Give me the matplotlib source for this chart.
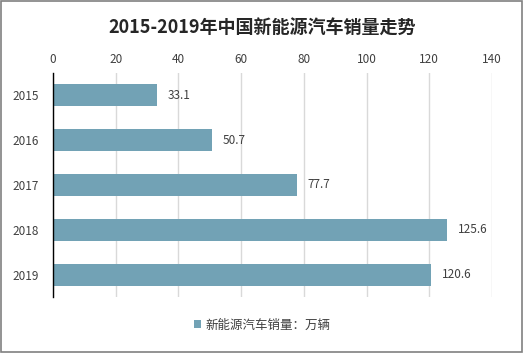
import matplotlib
matplotlib.use("Agg")
import matplotlib.pyplot as plt
from matplotlib.patches import Rectangle

plt.rcParams['font.family'] = ['Noto Sans CJK SC', 'DejaVu Sans']

# data
years = ['2015', '2016', '2017', '2018', '2019']
sales = [33.1, 50.7, 77.7, 125.6, 120.6]
xticks = [0, 20, 40, 60, 80, 100, 120, 140]
title = '2015-2019年中国新能源汽车销量走势'
series_name = '新能源汽车销量：万辆'

bar_color = '#72A2B5'
text_color = '#404040'

fig = plt.figure(figsize=(5.24, 3.53), dpi=100)
fig.patches.append(Rectangle((0.002, 0.003), 0.995, 0.994, transform=fig.transFigure,
                             fill=False, edgecolor='#808080', linewidth=1.2))

ax = fig.add_axes([53 / 524, 1 - 297 / 353, (492 - 53) / 524, (297 - 73) / 353])

pos = range(len(years))
bars = ax.barh(pos, sales, height=0.49, color=bar_color, label=series_name, zorder=2)
ax.set_ylim(len(years) - 0.5, -0.5)
ax.set_xlim(0, 140)
ax.set_xticks(xticks)
ax.set_yticks(list(pos))
ax.set_yticklabels(years)
ax.xaxis.tick_top()
ax.tick_params(axis='both', length=0, labelsize=8.5, colors=text_color)
ax.tick_params(axis='x', pad=5)
ax.tick_params(axis='y', pad=10)
ax.grid(axis='x', color='#D9D9D9', linewidth=1, zorder=0)
for s in ['top', 'right', 'bottom']:
    ax.spines[s].set_visible(False)
ax.spines['left'].set_color('#000000')
ax.spines['left'].set_linewidth(1)
ax.spines['left'].set_zorder(3)

for b, v in zip(bars, sales):
    ax.text(v + 3.5, b.get_y() + b.get_height() / 2, f'{v:g}', va='center', ha='left',
            fontsize=8.5, color=text_color)

fig.text(0.5, 1 - 28 / 353, title, ha='center', va='center', fontsize=13,
         fontweight='bold', color='#262626')

leg = fig.legend(loc='center', bbox_to_anchor=(0.5, 1 - 325 / 353), frameon=False,
                 fontsize=9, handlelength=0.6, handleheight=0.6, handletextpad=0.3)
for t in leg.get_texts():
    t.set_color(text_color)

fig.savefig('out.png', dpi=100)
